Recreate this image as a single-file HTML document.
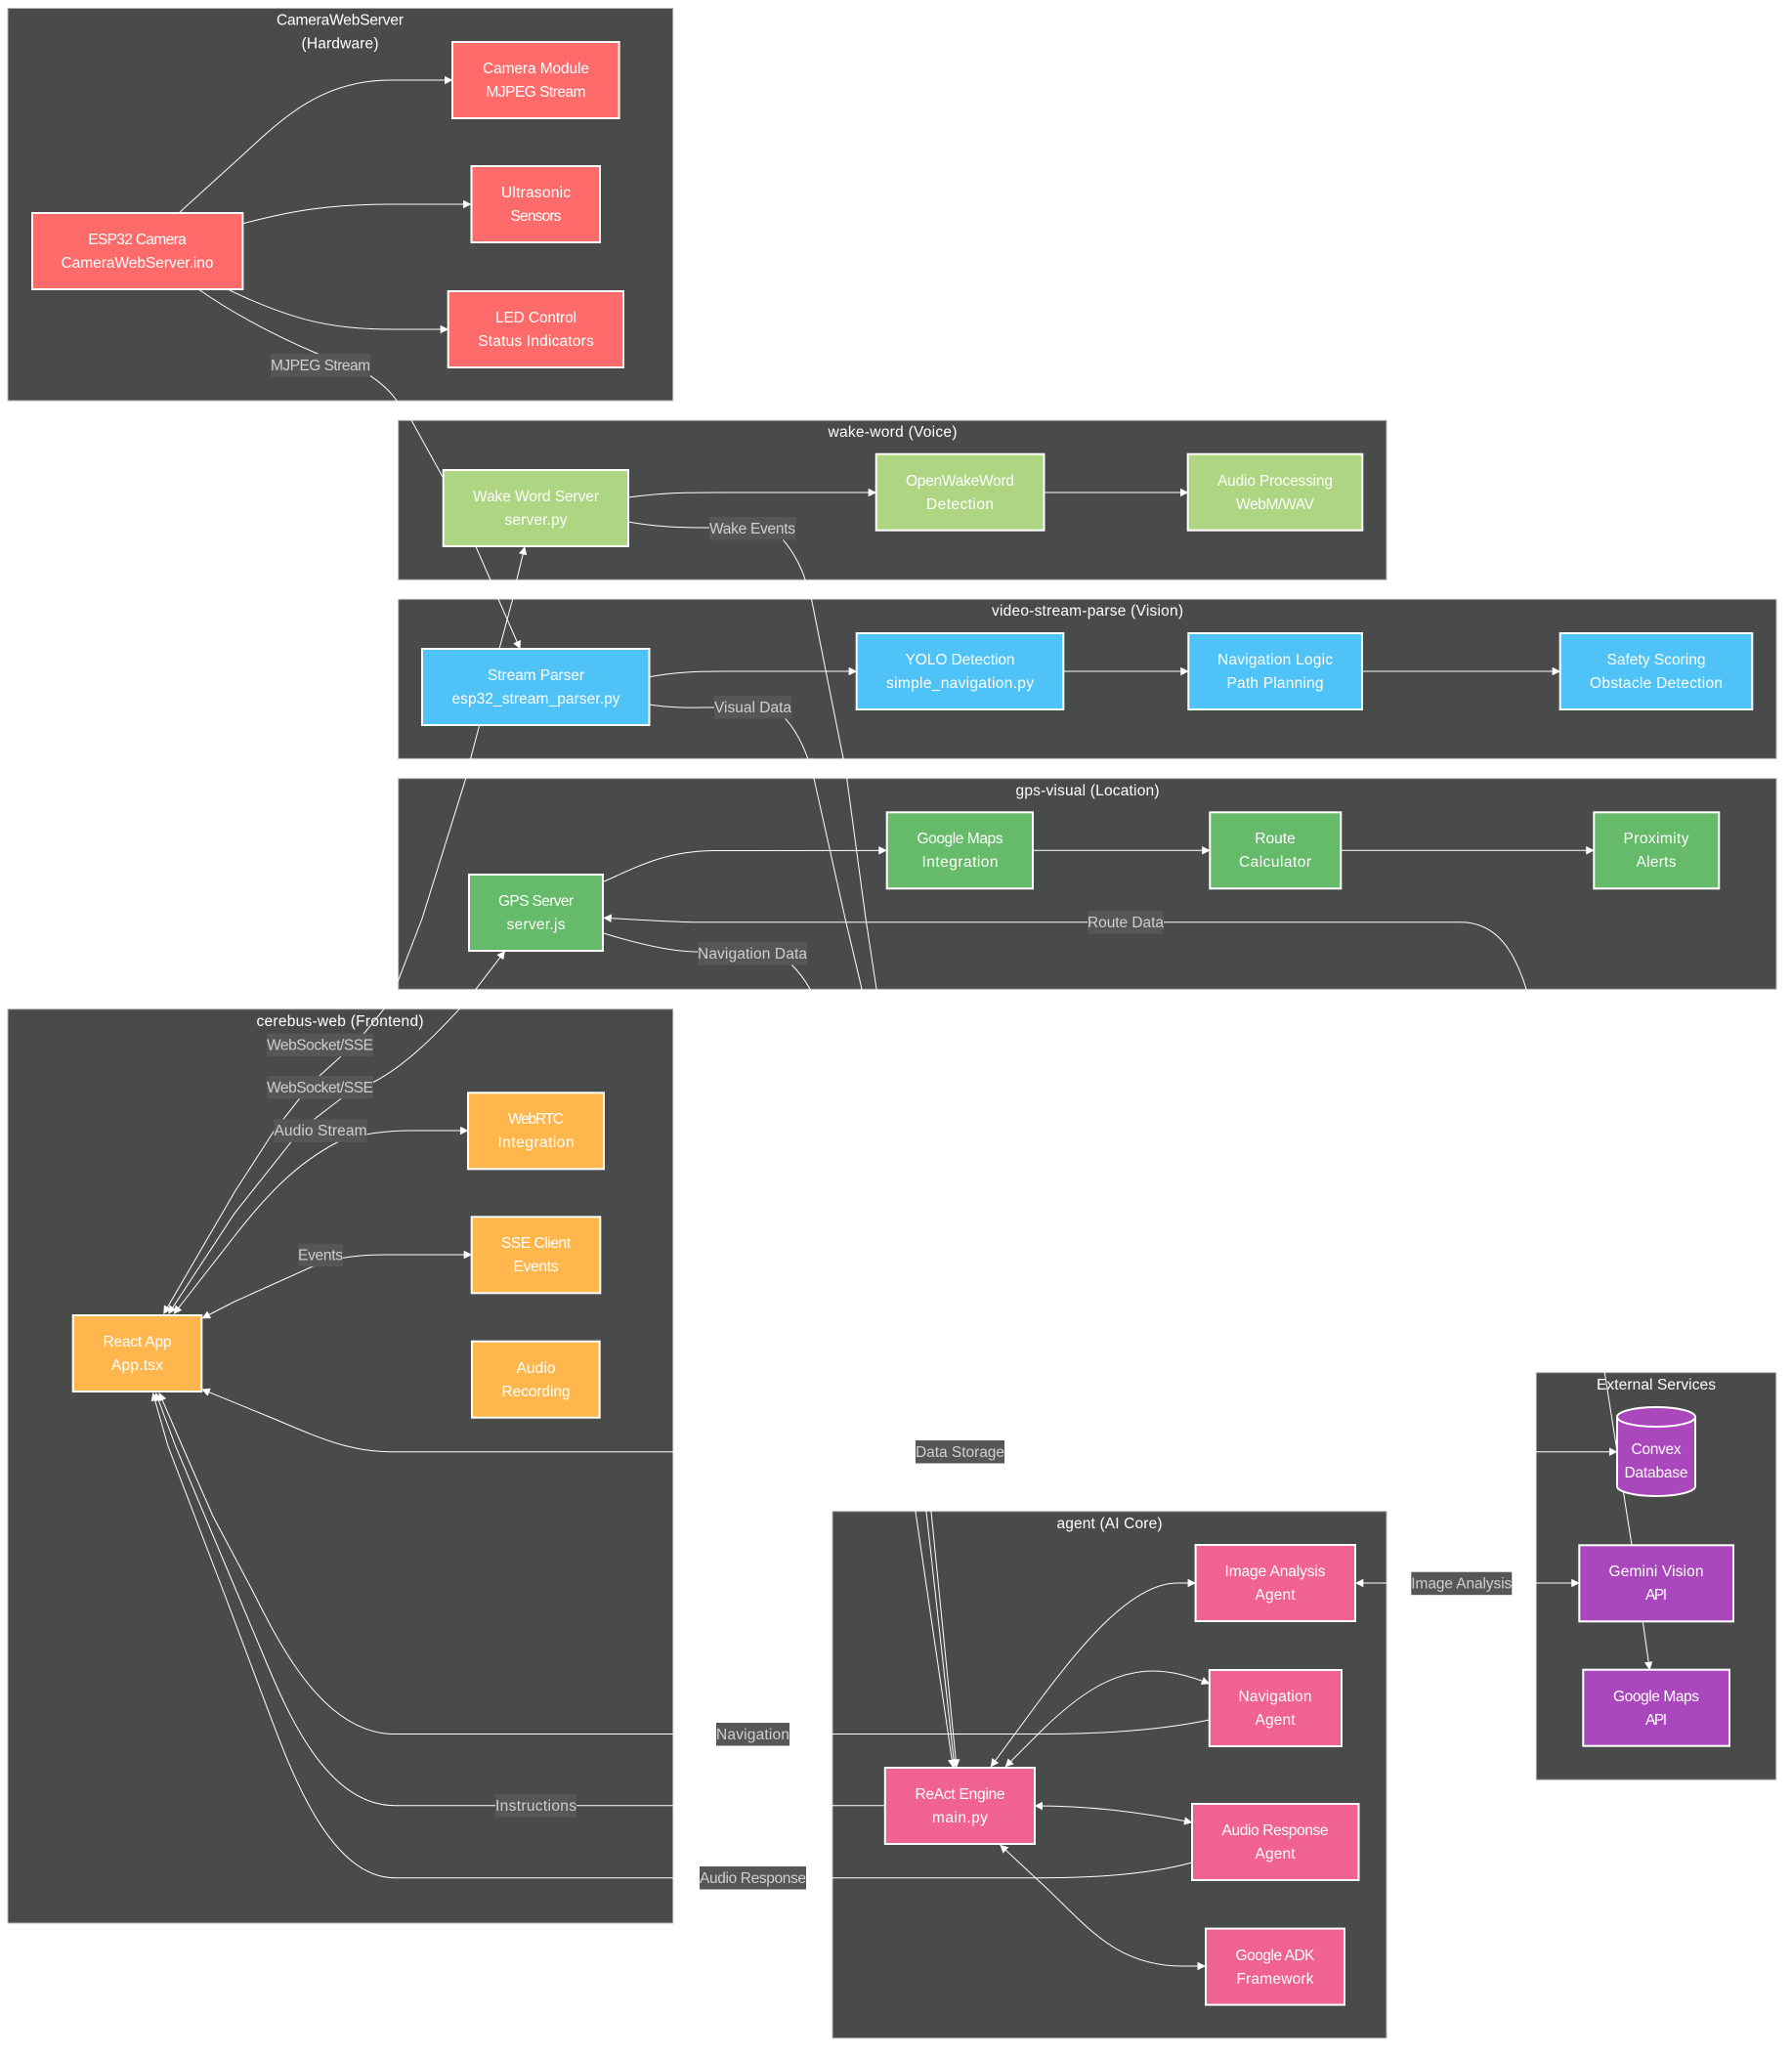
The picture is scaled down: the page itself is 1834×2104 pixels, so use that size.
<!DOCTYPE html>
<html><head><meta charset="utf-8"><title>Architecture Diagram</title>
<style>
html,body{margin:0;padding:0;background:#fff}
svg{display:block}
text{font-family:"Liberation Sans",sans-serif;font-size:15.5px;text-anchor:middle;fill:#fff}
.c{fill:#494b4a;stroke:#b4b4b4;stroke-width:1}
.e{fill:none;stroke:#fff;stroke-width:1;marker-end:url(#a)}
.b{marker-start:url(#s)}
.n{fill:none;stroke:#fff;stroke-width:1}
.l{fill:#565656}
.lt{fill:#cfcfcf}
.nd{stroke:#fff;stroke-width:2}
.red{fill:#ff6b6b}.lime{fill:#aed581}.blue{fill:#4fc3f7}.grn{fill:#66bb6a}.org{fill:#ffb74d}.pink{fill:#f06292}.pur{fill:#ab47bc}
</style></head><body>
<svg width="1834" height="2104" viewBox="0 0 1834 2104" xmlns="http://www.w3.org/2000/svg">
<defs>
<marker id="a" markerUnits="userSpaceOnUse" viewBox="0 0 10 10" refX="9.5" refY="5" markerWidth="8.5" markerHeight="8.5" orient="auto"><path d="M0,0L10,5L0,10z" fill="#fff"/></marker>
<marker id="s" markerUnits="userSpaceOnUse" viewBox="0 0 10 10" refX="0.5" refY="5" markerWidth="8.5" markerHeight="8.5" orient="auto"><path d="M10,0L0,5L10,10z" fill="#fff"/></marker>
</defs>

<!-- clusters -->
<rect class="c" x="8" y="8.5" width="680.7" height="401.5"/>
<rect class="c" x="407.7" y="430.3" width="1011.3" height="163"/>
<rect class="c" x="407.7" y="613.3" width="1410.3" height="163"/>
<rect class="c" x="407.7" y="796.7" width="1410.3" height="215.6"/>
<rect class="c" x="8" y="1032.7" width="680.7" height="935.3"/>
<rect class="c" x="852" y="1546.7" width="567" height="539"/>
<rect class="c" x="1572.3" y="1404.7" width="245.4" height="416.6"/>

<!-- cluster titles -->
<text x="348" y="25.5" textLength="130">CameraWebServer</text>
<text x="348" y="49.5" textLength="79">(Hardware)</text>
<text x="913.5" y="447" textLength="132">wake-word (Voice)</text>
<text x="1113" y="630" textLength="196">video-stream-parse (Vision)</text>
<text x="1113" y="814" textLength="147">gps-visual (Location)</text>
<text x="348" y="1050" textLength="171">cerebus-web (Frontend)</text>
<text x="1135.5" y="1564" textLength="108">agent (AI Core)</text>
<text x="1695" y="1422" textLength="122">External Services</text>

<!-- edges -->
<path class="e" d="M183,218L248,159C290,120 330,82 399,82L463,82"/>
<path class="e" d="M248,229C300,215 340,209 400,209L482,209"/>
<path class="e" d="M234,296.6C300,328 340,337 400,337L458.7,337"/>
<path class="e" d="M204,296.6C245,325 285,345 325,362L379,384.6C390,392 400,401 406,410C412,418 418,425 421,430L453,488L486.7,558.7L501.7,593L510,613L532.3,664"/>

<path class="e" d="M643,509C680,504 700,504 740,504L896.7,504"/>
<path class="e" d="M1068.5,504L1216,504"/>
<path class="e" d="M664.5,692.7C690,688 710,687 740,687L876.7,687"/>
<path class="e" d="M1088.3,687L1216.3,687"/>
<path class="e" d="M1394,687L1596.7,687"/>
<path class="e" d="M617.7,902.3C650,888 680,871 730,870.5L907.3,870.3"/>
<path class="e" d="M1057,870.3L1238.3,870.3"/>
<path class="e" d="M1372.3,870.3L1631.3,870.3"/>

<path class="e" d="M1670,1581L1642.3,1404.7L1562,1012C1552,980 1535,943.7 1495,943.7L710,943.7C680,943 650,941 617.7,939.3"/>

<path class="e" d="M643,534C670,539 695,540 726,540L790,541L801.7,552.7C812,565 820,580 824,593L830.7,614L863,776L866.7,796.7L886,940L897,1012L937,1547L975.4,1808.6"/>
<path class="e" d="M664.5,721C690,725 710,724 731,724L790,724L804,735.7C815,748 822,763 826.7,776L833,796.7L865,940L882,1012L948,1547L977,1808.6"/>
<path class="e" d="M617.7,955C660,968 690,974 714,974L790,975L810,987C818,995 825,1005 829,1012L953,1547L979,1808.6"/>

<path class="e b" d="M167.5,1344.5L240,1220L280,1158L306,1125L327,1101L349,1081L373,1057L392.7,1033L407.7,1003L432,940L476.7,796.7L481.7,776L490.7,742L511,664L524.7,613L529,593L537,559.5"/>
<path class="e b" d="M172.5,1344.5L240,1241.7L297.7,1169L322,1145L348,1125L383,1107C415,1090 445,1060 470,1032.7L486.7,1012.7L516.7,973.3"/>
<path class="e b" d="M178,1344.5L240,1265C275,1220 305,1190 345,1169C365,1160 400,1157 420,1157L479,1157"/>
<path class="e b" d="M207,1349L240,1332L320,1296C345,1286 370,1284 395,1284L482.7,1284"/>
<path class="e b" d="M206.7,1421.7L283,1453C330,1473 360,1485.7 400,1485.7L1655,1485.7"/>

<path class="n" d="M1237.8,1760C1190,1770 1130,1774.5 1066,1774.5L404,1774.5C330,1774.5 285,1680 258,1627L218,1551.6L186.6,1480L163,1425.5" marker-end="url(#a)"/>
<path class="n" d="M905.8,1847.7L404,1847.7C335,1847.7 295,1755 270,1695L229.6,1599L179.7,1480L159.5,1425.5" marker-end="url(#a)"/>
<path class="n" d="M1220,1906C1180,1917 1130,1921.7 1066,1921.7L404,1921.7C335,1921.7 295,1805 270,1738.6L229.6,1631L172,1480L156.5,1425.5" marker-end="url(#a)"/>

<path class="e b" d="M1014,1808L1067,1736C1100,1693 1155,1620 1205,1620L1223.6,1620"/>
<path class="e b" d="M1029,1808L1067,1770C1105,1733 1140,1710 1180,1710C1200,1710 1220,1716 1237.8,1723"/>
<path class="e b" d="M1059,1848C1110,1848 1160,1853 1220,1865"/>
<path class="e b" d="M1023.6,1888L1066.6,1928C1110,1968 1140,2012 1210,2012L1233.6,2012"/>
<path class="e b" d="M1387.3,1620L1616.3,1620"/>
<path class="e" d="M1681.3,1659L1688.3,1708.7"/>

<!-- camera nodes -->
<rect class="nd red" x="33" y="218" width="215.4" height="78"/>
<text x="140.5" y="250" textLength="100.5">ESP32 Camera</text><text x="140.5" y="274" textLength="156">CameraWebServer.ino</text>
<rect class="nd red" x="463" y="43" width="170.6" height="78"/>
<text x="548.5" y="75" textLength="109">Camera Module</text><text x="548.5" y="99" textLength="102">MJPEG Stream</text>
<rect class="nd red" x="482.5" y="170" width="131.5" height="78"/>
<text x="548.5" y="202" textLength="71">Ultrasonic</text><text x="548.5" y="226" textLength="52">Sensors</text>
<rect class="nd red" x="458.7" y="298" width="179.3" height="78"/>
<text x="548.5" y="330" textLength="83">LED Control</text><text x="548.5" y="354" textLength="118.5">Status Indicators</text>

<!-- wake nodes -->
<rect class="nd lime" x="453.7" y="481" width="189.3" height="78"/>
<text x="548.5" y="513" textLength="129">Wake Word Server</text><text x="548.5" y="537" textLength="64">server.py</text>
<rect class="nd lime" x="896.7" y="464.7" width="171.8" height="78"/>
<text x="982.5" y="497" textLength="111">OpenWakeWord</text><text x="982.5" y="521" textLength="69">Detection</text>
<rect class="nd lime" x="1215.7" y="464.7" width="178.6" height="78"/>
<text x="1305" y="497" textLength="118">Audio Processing</text><text x="1305" y="521" textLength="80">WebM/WAV</text>

<!-- vision nodes -->
<rect class="nd blue" x="432" y="664" width="232.5" height="78"/>
<text x="548.5" y="696" textLength="99">Stream Parser</text><text x="548.5" y="720" textLength="172">esp32_stream_parser.py</text>
<rect class="nd blue" x="876.7" y="648" width="211.6" height="78"/>
<text x="982.5" y="680" textLength="112">YOLO Detection</text><text x="982.5" y="704" textLength="151">simple_navigation.py</text>
<rect class="nd blue" x="1216.3" y="648" width="177.7" height="78"/>
<text x="1305" y="680" textLength="118">Navigation Logic</text><text x="1305" y="704" textLength="99">Path Planning</text>
<rect class="nd blue" x="1596.7" y="648" width="196.6" height="78"/>
<text x="1695" y="680" textLength="101">Safety Scoring</text><text x="1695" y="704" textLength="136">Obstacle Detection</text>

<!-- gps nodes -->
<rect class="nd grn" x="480" y="895" width="137" height="78"/>
<text x="548.5" y="927" textLength="77">GPS Server</text><text x="548.5" y="951" textLength="60">server.js</text>
<rect class="nd grn" x="907.7" y="831.3" width="149.3" height="78"/>
<text x="982.5" y="863" textLength="88">Google Maps</text><text x="982.5" y="887" textLength="78">Integration</text>
<rect class="nd grn" x="1238.3" y="831.3" width="134" height="78"/>
<text x="1305" y="863" textLength="41.5">Route</text><text x="1305" y="887" textLength="74">Calculator</text>
<rect class="nd grn" x="1631.3" y="831.3" width="128" height="78"/>
<text x="1695" y="863" textLength="67">Proximity</text><text x="1695" y="887" textLength="41">Alerts</text>

<!-- frontend nodes -->
<rect class="nd org" x="74.7" y="1346" width="131.6" height="78"/>
<text x="140.5" y="1378" textLength="70">React App</text><text x="140.5" y="1402" textLength="53">App.tsx</text>
<rect class="nd org" x="479" y="1118.3" width="139" height="78"/>
<text x="548.5" y="1150" textLength="57">WebRTC</text><text x="548.5" y="1174" textLength="78">Integration</text>
<rect class="nd org" x="482.7" y="1245.3" width="131.6" height="78"/>
<text x="548.5" y="1277" textLength="71">SSE Client</text><text x="548.5" y="1301" textLength="46">Events</text>
<rect class="nd org" x="483" y="1372.7" width="130.7" height="78"/>
<text x="548.5" y="1405" textLength="40">Audio</text><text x="548.5" y="1429" textLength="70">Recording</text>

<!-- agent nodes -->
<rect class="nd pink" x="905.8" y="1809" width="153.2" height="78"/>
<text x="982.5" y="1841" textLength="92">ReAct Engine</text><text x="982.5" y="1865" textLength="57">main.py</text>
<rect class="nd pink" x="1223.6" y="1581" width="163.4" height="78"/>
<text x="1305" y="1613" textLength="103">Image Analysis</text><text x="1305" y="1637" textLength="41">Agent</text>
<rect class="nd pink" x="1237.8" y="1709" width="135.2" height="78"/>
<text x="1305" y="1741" textLength="75">Navigation</text><text x="1305" y="1765" textLength="41">Agent</text>
<rect class="nd pink" x="1220" y="1846" width="170.5" height="78"/>
<text x="1305" y="1878" textLength="109">Audio Response</text><text x="1305" y="1902" textLength="41">Agent</text>
<rect class="nd pink" x="1234" y="1973.6" width="142" height="78"/>
<text x="1305" y="2006" textLength="81">Google ADK</text><text x="1305" y="2030" textLength="79">Framework</text>

<!-- external nodes -->
<path class="nd pur" d="M1655,1450a40,10 0 0 0 80,0a40,10 0 0 0 -80,0l0,71a40,10 0 0 0 80,0l0,-71"/>
<text x="1695" y="1488" textLength="51">Convex</text><text x="1695" y="1512" textLength="65">Database</text>
<rect class="nd pur" x="1616.3" y="1581.3" width="157.7" height="78"/>
<text x="1695" y="1613" textLength="97">Gemini Vision</text><text x="1695" y="1637" textLength="22">API</text>
<rect class="nd pur" x="1620.3" y="1708.7" width="149.7" height="78"/>
<text x="1695" y="1741" textLength="88">Google Maps</text><text x="1695" y="1765" textLength="22">API</text>

<!-- edge labels -->
<rect class="l" x="277" y="362" width="102" height="23.5"/><text class="lt" x="328" y="379" textLength="102">MJPEG Stream</text>
<rect class="l" x="726" y="529" width="88.4" height="23.5"/><text class="lt" x="770" y="546" textLength="88">Wake Events</text>
<rect class="l" x="731" y="712" width="79" height="23.5"/><text class="lt" x="770.5" y="729" textLength="79">Visual Data</text>
<rect class="l" x="714" y="964" width="112" height="23.5"/><text class="lt" x="770" y="981" textLength="112">Navigation Data</text>
<rect class="l" x="1113" y="932" width="78" height="23.5"/><text class="lt" x="1152" y="949" textLength="78">Route Data</text>
<rect class="l" x="273" y="1057.7" width="109" height="23.5"/><text class="lt" x="327.5" y="1074.5" textLength="109">WebSocket/SSE</text>
<rect class="l" x="273" y="1101" width="109" height="23.5"/><text class="lt" x="327.5" y="1118" textLength="109">WebSocket/SSE</text>
<rect class="l" x="280.3" y="1145.3" width="95.4" height="23.5"/><text class="lt" x="328" y="1162" textLength="95">Audio Stream</text>
<rect class="l" x="305" y="1272.7" width="46" height="23.5"/><text class="lt" x="328" y="1289.5" textLength="46">Events</text>
<rect class="l" x="937" y="1474" width="91" height="23.5"/><text class="lt" x="982.5" y="1491" textLength="91">Data Storage</text>
<rect class="l" x="1444.3" y="1608.7" width="103" height="23.5"/><text class="lt" x="1495.8" y="1625.5" textLength="103">Image Analysis</text>
<rect class="l" x="733" y="1763" width="75" height="23.5"/><text class="lt" x="770.5" y="1780" textLength="75">Navigation</text>
<rect class="l" x="507" y="1836" width="83" height="23.5"/><text class="lt" x="548.5" y="1853" textLength="83">Instructions</text>
<rect class="l" x="716" y="1910" width="109" height="23.5"/><text class="lt" x="770.5" y="1927" textLength="109">Audio Response</text>
</svg>
</body></html>
